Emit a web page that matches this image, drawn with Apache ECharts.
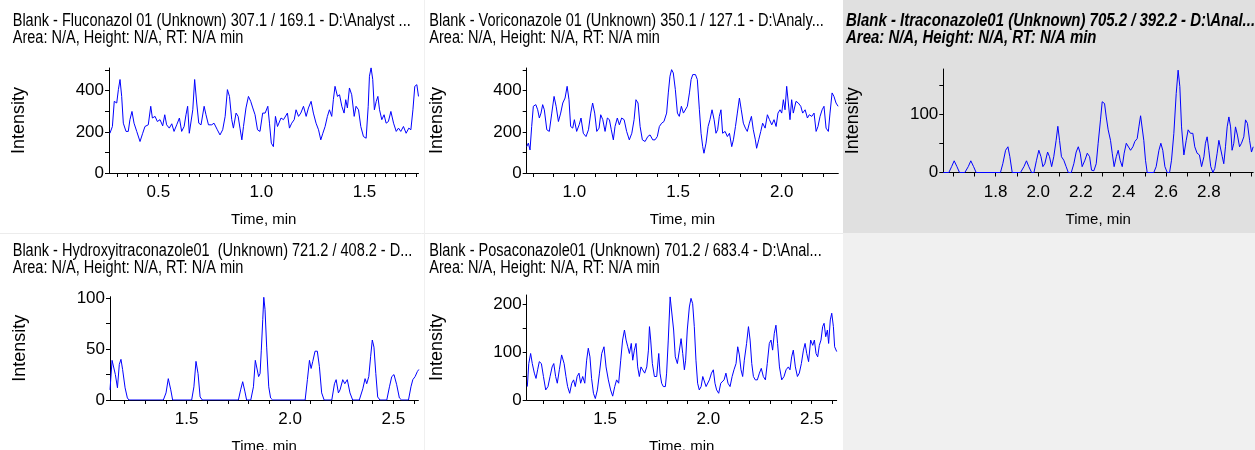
<!DOCTYPE html>
<html>
<head>
<meta charset="utf-8">
<title>Blank chromatograms</title>
<script src="https://cdn.jsdelivr.net/npm/echarts@6/dist/echarts.min.js"></script>
<style>
  html, body { margin: 0; padding: 0; background: #fff; }
  #chart { width: 1255px; height: 450px; }
</style>
</head>
<body>
<div id="chart"></div>
<script>
// Fluconazol 307.1 / 169.1
const p1Time = [0.265,0.277,0.286,0.298,0.306,0.314,0.322,0.330,0.343,0.354,0.362,0.372,0.382,0.395,0.411,0.424,0.435,0.451,0.463,0.471,0.484,0.495,0.508,0.521,0.531,0.540,0.553,0.565,0.576,0.589,0.602,0.613,0.625,0.634,0.642,0.650,0.657,0.667,0.676,0.686,0.696,0.707,0.722,0.731,0.743,0.759,0.770,0.786,0.799,0.812,0.824,0.835,0.845,0.856,0.864,0.877,0.887,0.896,0.905,0.913,0.925,0.937,0.948,0.958,0.969,0.981,0.993,1.006,1.018,1.031,1.039,1.048,1.058,1.068,1.078,1.087,1.095,1.107,1.116,1.126,1.136,1.147,1.159,1.168,1.180,1.191,1.204,1.217,1.228,1.241,1.252,1.265,1.277,1.288,1.298,1.309,1.320,1.330,1.341,1.349,1.357,1.369,1.379,1.390,1.401,1.409,1.417,1.427,1.438,1.450,1.459,1.471,1.482,1.495,1.508,1.518,1.524,1.532,1.540,1.548,1.557,1.565,1.573,1.584,1.595,1.605,1.616,1.628,1.641,1.654,1.665,1.676,1.689,1.702,1.715,1.725,1.735,1.744,1.754,1.762]
const p1Intensity = [193,226,348,340,405,454,372,242,202,202,259,299,242,202,153,193,226,234,324,267,275,250,259,229,283,234,218,239,202,234,267,202,226,283,324,193,185,307,454,340,242,234,324,283,234,234,242,210,185,210,275,405,372,259,218,291,275,218,161,226,316,372,348,316,283,210,202,291,291,324,242,145,128,275,226,226,267,259,267,291,218,242,259,307,275,291,324,275,316,348,291,242,210,161,193,226,275,307,275,356,421,372,380,324,291,356,316,413,380,275,324,307,226,177,169,324,470,511,454,307,348,372,307,259,283,242,250,299,242,202,218,202,226,193,218,210,307,421,429,372]

// Voriconazole 350.1 / 127.1
const p2Time = [0.770,0.778,0.786,0.794,0.802,0.814,0.823,0.831,0.839,0.847,0.855,0.867,0.879,0.891,0.902,0.912,0.923,0.934,0.944,0.955,0.965,0.974,0.982,0.992,1.000,1.011,1.023,1.032,1.043,1.056,1.068,1.079,1.088,1.098,1.108,1.119,1.127,1.137,1.148,1.159,1.169,1.178,1.188,1.196,1.207,1.217,1.228,1.240,1.252,1.265,1.277,1.288,1.297,1.307,1.317,1.328,1.341,1.354,1.365,1.378,1.389,1.400,1.410,1.421,1.432,1.445,1.453,1.461,1.469,1.477,1.487,1.497,1.506,1.516,1.526,1.535,1.545,1.555,1.563,1.571,1.584,1.593,1.603,1.611,1.619,1.625,1.635,1.645,1.654,1.664,1.674,1.683,1.691,1.699,1.707,1.715,1.727,1.738,1.748,1.759,1.767,1.777,1.786,1.796,1.805,1.815,1.825,1.834,1.844,1.854,1.863,1.873,1.879,1.889,1.899,1.908,1.920,1.931,1.941,1.952,1.963,1.973,1.982,1.992,2.000,2.008,2.016,2.024,2.032,2.040,2.048,2.056,2.069,2.080,2.092,2.101,2.113,2.124,2.133,2.145,2.156,2.166,2.175,2.185,2.195,2.204,2.214,2.225,2.233,2.243,2.252,2.262,2.272]
const p2Intensity = [128,145,112,226,324,332,307,267,291,332,307,210,202,291,372,324,250,291,340,364,421,356,226,218,259,202,234,267,193,177,210,291,340,291,202,218,283,259,202,267,259,210,161,226,267,234,267,259,202,161,193,259,356,340,226,161,153,177,185,161,161,177,226,242,250,291,389,470,502,486,405,291,275,324,291,299,324,389,454,478,478,454,307,193,128,96,145,226,259,307,259,193,210,275,307,193,202,177,193,128,161,226,291,364,307,242,218,202,242,275,210,161,120,161,202,242,218,283,259,234,259,226,291,307,291,356,307,421,340,259,356,291,348,340,324,291,307,267,283,275,291,202,226,275,307,324,218,202,291,389,372,340,324]

// Itraconazole 705.2 / 392.2
const p3Time = [1.555,1.581,1.594,1.606,1.619,1.631,1.656,1.672,1.684,1.697,1.709,1.823,1.834,1.847,1.858,1.867,1.878,1.917,1.933,1.945,1.956,1.969,1.980,1.992,2.003,2.013,2.022,2.031,2.044,2.053,2.063,2.073,2.084,2.092,2.100,2.109,2.120,2.131,2.141,2.155,2.167,2.178,2.188,2.197,2.206,2.219,2.230,2.241,2.250,2.261,2.272,2.281,2.292,2.300,2.311,2.319,2.328,2.339,2.347,2.356,2.366,2.375,2.384,2.394,2.403,2.413,2.422,2.433,2.444,2.453,2.464,2.472,2.480,2.488,2.495,2.503,2.511,2.542,2.553,2.566,2.575,2.584,2.594,2.605,2.616,2.625,2.636,2.647,2.656,2.664,2.672,2.683,2.694,2.703,2.714,2.725,2.734,2.745,2.756,2.766,2.777,2.784,2.792,2.800,2.809,2.819,2.828,2.839,2.847,2.855,2.863,2.870,2.878,2.886,2.894,2.902,2.909,2.917,2.925,2.934,2.944,2.953,2.964,2.972,2.981,2.991,3.000,3.008]
const p3Intensity = [0,0,10,20,10,0,0,10,20,10,0,0,15,38,44,27,0,0,10,20,10,0,0,21,38,27,10,15,35,27,10,27,55,79,55,27,21,10,0,0,15,35,44,33,10,21,33,27,4,3,15,50,90,121,118,95,73,55,33,10,27,38,21,10,33,50,53,38,44,53,58,78,97,95,55,21,0,0,10,38,50,38,10,0,0,21,67,135,175,147,78,30,55,73,67,67,44,33,30,10,27,50,61,38,10,0,7,33,55,58,27,15,44,78,95,78,38,50,78,64,44,50,61,90,84,55,35,44]

// Hydroxyitraconazole 721.2 / 408.2
const p4Time = [1.129,1.139,1.147,1.155,1.165,1.174,1.182,1.190,1.202,1.213,1.221,1.387,1.400,1.411,1.423,1.432,1.524,1.535,1.545,1.555,1.565,1.576,1.750,1.761,1.771,1.782,1.790,1.810,1.823,1.832,1.840,1.848,1.855,1.861,1.868,1.873,1.879,1.887,1.897,1.906,1.916,2.073,2.084,2.094,2.102,2.110,2.121,2.132,2.142,2.153,2.165,2.202,2.215,2.223,2.234,2.242,2.255,2.265,2.277,2.290,2.303,2.335,2.352,2.363,2.371,2.381,2.390,2.398,2.406,2.415,2.424,2.435,2.468,2.481,2.492,2.503,2.516,2.529,2.540,2.573,2.585,2.594,2.605,2.616,2.623]
const p4Intensity = [10,39,39,25,12,35,40,30,12,2,0,0,7,21,10,0,0,13,38,26,3,0,0,10,18,8,0,0,13,39,38,23,26,49,79,101,89,52,13,2,0,0,20,39,31,38,48,48,33,7,0,0,16,20,7,10,20,16,20,7,0,0,11,21,16,23,43,59,52,26,3,0,0,13,23,25,15,2,0,0,13,20,23,28,30]

// Posaconazole 701.2 / 683.4
const p5Time = [1.124,1.131,1.140,1.148,1.158,1.166,1.174,1.182,1.192,1.202,1.213,1.224,1.234,1.244,1.252,1.261,1.269,1.279,1.290,1.302,1.311,1.319,1.329,1.339,1.348,1.356,1.365,1.374,1.382,1.392,1.402,1.411,1.419,1.427,1.435,1.444,1.453,1.463,1.473,1.484,1.495,1.505,1.516,1.527,1.537,1.547,1.556,1.566,1.576,1.585,1.594,1.602,1.610,1.618,1.627,1.634,1.642,1.650,1.658,1.666,1.674,1.682,1.692,1.702,1.710,1.715,1.721,1.729,1.739,1.750,1.760,1.766,1.774,1.782,1.792,1.798,1.806,1.815,1.824,1.832,1.840,1.850,1.860,1.868,1.876,1.884,1.890,1.898,1.908,1.916,1.924,1.932,1.940,1.948,1.956,1.965,1.973,1.981,1.989,1.997,2.005,2.015,2.024,2.032,2.040,2.050,2.060,2.068,2.076,2.085,2.095,2.105,2.115,2.124,2.134,2.142,2.150,2.158,2.166,2.174,2.185,2.194,2.202,2.210,2.218,2.227,2.237,2.247,2.256,2.266,2.276,2.285,2.295,2.303,2.311,2.319,2.327,2.335,2.344,2.355,2.366,2.376,2.387,2.395,2.403,2.411,2.421,2.431,2.440,2.450,2.460,2.468,2.476,2.485,2.495,2.505,2.513,2.521,2.529,2.537,2.545,2.553,2.560,2.568,2.576,2.582,2.590,2.597,2.605,2.611,2.621]
const p5Intensity = [28,76,97,76,56,45,63,80,76,49,21,28,49,69,76,49,35,63,94,76,49,28,14,35,42,28,49,56,35,49,35,83,108,90,45,14,3,21,56,97,111,69,42,21,8,28,42,35,83,125,146,125,111,97,118,83,104,118,69,49,69,63,56,69,104,153,125,76,49,49,97,56,35,28,28,56,125,215,212,146,90,76,104,128,97,63,83,146,194,212,201,153,83,35,21,28,49,52,28,28,42,56,63,35,21,14,35,38,42,56,35,28,49,63,76,111,94,63,49,83,118,153,125,76,49,42,42,56,66,49,42,76,118,125,104,139,156,118,69,42,49,63,69,63,90,104,69,49,56,76,104,118,97,80,125,114,125,97,90,114,125,153,160,132,146,118,167,181,153,111,101]

// tick labels and tick marks
const p1XLabels = [0.5, 1.0, 1.5]
const p1XTicks = [0.30,0.35,0.40,0.45,0.50,0.55,0.60,0.65,0.70,0.75,0.80,0.85,0.90,0.95,1.00,1.05,1.10,1.15,1.20,1.25,1.30,1.35,1.40,1.45,1.50,1.55,1.60,1.65,1.70,1.75]
const p2XLabels = [1.0, 1.5, 2.0]
const p2XTicks = [0.8,0.9,1.0,1.1,1.2,1.3,1.4,1.5,1.6,1.7,1.8,1.9,2.0,2.1,2.2]
const p3XLabels = [1.8, 2.0, 2.2, 2.4, 2.6, 2.8]
const p3XTicks = [1.6,1.7,1.8,1.9,2.0,2.1,2.2,2.3,2.4,2.5,2.6,2.7,2.8,2.9,3.0]
const p45XLabels = [1.5, 2.0, 2.5]
const p45XTicks = [1.2,1.3,1.4,1.5,1.6,1.7,1.8,1.9,2.0,2.1,2.2,2.3,2.4,2.5,2.6]

const p12YLabels = [0, 200, 400]
const p12YTicks = [0, 100, 200, 300, 400, 500]
const p3YLabels = [0, 100]
const p3YTicks = [0, 50, 100, 150]
const p4YLabels = [0, 50, 100]
const p4YTicks = [0, 25, 50, 75, 100]
const p5YLabels = [0, 100, 200]
const p5YTicks = [0, 50, 100, 150, 200]

const areaLine = 'Area: N/A, Height: N/A, RT: N/A min'
const titles = [
  'Blank - Fluconazol 01 (Unknown) 307.1 / 169.1 - D:\\Analyst ...',
  'Blank - Voriconazole 01 (Unknown) 350.1 / 127.1 - D:\\Analy...',
  'Blank - Itraconazole01 (Unknown) 705.2 / 392.2 - D:\\Anal...',
  'Blank - Hydroxyitraconazole01  (Unknown) 721.2 / 408.2 - D...',
  'Blank - Posaconazole01 (Unknown) 701.2 / 683.4 - D:\\Anal...'
]

const FONT = "'Liberation Sans Narrow', 'Arial Narrow', 'Liberation Sans', sans-serif"

// layout of the five panels (plot box in px, axis ranges)
const panels = [
  { time: p1Time, values: p1Intensity, xLabels: p1XLabels, xTicks: p1XTicks, yLabels: p12YLabels, yTicks: p12YTicks,
    box: [109, 68, 309.5, 105], xMin: 0.2605, xMax: 1.762, yMax: 510, titlePos: [12.7, 13], active: false },
  { time: p2Time, values: p2Intensity, xLabels: p2XLabels, xTicks: p2XTicks, yLabels: p12YLabels, yTicks: p12YTicks,
    box: [526.7, 68, 311.6, 105], xMin: 0.770, xMax: 2.273, yMax: 510, titlePos: [429.3, 13], active: false },
  { time: p3Time, values: p3Intensity, xLabels: p3XLabels, xTicks: p3XTicks, yLabels: p3YLabels, yTicks: p3YTicks,
    box: [943.3, 69, 309.9, 103.5], xMin: 1.555, xMax: 3.008, yMax: 177, titlePos: [846, 13], active: true },
  { time: p4Time, values: p4Intensity, xLabels: p45XLabels, xTicks: p45XTicks, yLabels: p4YLabels, yTicks: p4YTicks,
    box: [110, 296.7, 308.4, 103.3], xMin: 1.129, xMax: 2.621, yMax: 101.6, titlePos: [12.7, 243], active: false },
  { time: p5Time, values: p5Intensity, xLabels: p45XLabels, xTicks: p45XTicks, yLabels: p5YLabels, yTicks: p5YTicks,
    box: [526.7, 295, 310, 105], xMin: 1.121, xMax: 2.621, yMax: 219, titlePos: [429.3, 243], active: false }
]

const chart = echarts.init(document.getElementById('chart'))

const axisText = { color: '#000', fontFamily: FONT, fontSize: 17 }
const black = { color: '#000', width: 1 }

// panel headers: the original uses a condensed face, so squeeze them horizontally
const headers = panels.map((p, i) => ({
  type: 'text',
  x: p.titlePos[0],
  y: p.titlePos[1],
  scaleX: p.active ? 0.855 : 0.83,
  silent: true,
  style: {
    text: titles[i] + '\n' + areaLine,
    fill: '#000',
    fontFamily: FONT,
    fontSize: 17.5,
    lineHeight: 16.5,
    fontWeight: p.active ? 'bold' : 'normal',
    fontStyle: p.active ? 'italic' : 'normal',
    align: 'left',
    verticalAlign: 'top'
  }
}))

chart.setOption({
  animation: false,
  backgroundColor: '#fff',
  graphic: [
    { type: 'rect', z: -10, silent: true, shape: { x: 843, y: 0, width: 412, height: 233 }, style: { fill: '#e0e0e0' } },
    { type: 'rect', z: -10, silent: true, shape: { x: 843, y: 233, width: 412, height: 217 }, style: { fill: '#f0f0f0' } },
    { type: 'line', z: -10, silent: true, shape: { x1: 0, y1: 233.5, x2: 843, y2: 233.5 }, style: { stroke: '#ececec', lineWidth: 1 } },
    { type: 'line', z: -10, silent: true, shape: { x1: 424.5, y1: 0, x2: 424.5, y2: 450 }, style: { stroke: '#f0f0f0', lineWidth: 1 } },
    ...headers
  ],
  grid: panels.map(p => ({
    left: p.box[0], top: p.box[1], width: p.box[2], height: p.box[3],
    outerBoundsMode: 'none'
  })),
  xAxis: panels.map((p, i) => ({
    type: 'value',
    gridIndex: i,
    min: p.xMin,
    max: p.xMax,
    name: 'Time, min',
    nameLocation: 'middle',
    nameGap: 39.5,
    nameTextStyle: { ...axisText, fontSize: 15 },
    axisLine: { onZero: false, lineStyle: black },
    axisTick: { customValues: p.xTicks, length: 4, lineStyle: black },
    axisLabel: { customValues: p.xLabels, formatter: v => v.toFixed(1), margin: 11, ...axisText },
    splitLine: { show: false }
  })),
  yAxis: panels.map((p, i) => ({
    type: 'value',
    gridIndex: i,
    min: 0,
    max: p.yMax,
    name: 'Intensity',
    nameLocation: 'middle',
    nameGap: 81,
    nameTextStyle: { ...axisText, fontSize: 18 },
    axisLine: { show: true, onZero: false, lineStyle: black },
    axisTick: { show: true, customValues: p.yTicks, length: 4, lineStyle: black },
    axisLabel: { customValues: p.yLabels, margin: 5, ...axisText },
    splitLine: { show: false }
  })),
  series: panels.map((p, i) => ({
    type: 'line',
    xAxisIndex: i,
    yAxisIndex: i,
    data: p.time.map((t, k) => [t, p.values[k]]),
    showSymbol: false,
    lineStyle: { color: '#0000ff', width: 1 },
    itemStyle: { color: '#0000ff' }
  }))
})
</script>
</body>
</html>
